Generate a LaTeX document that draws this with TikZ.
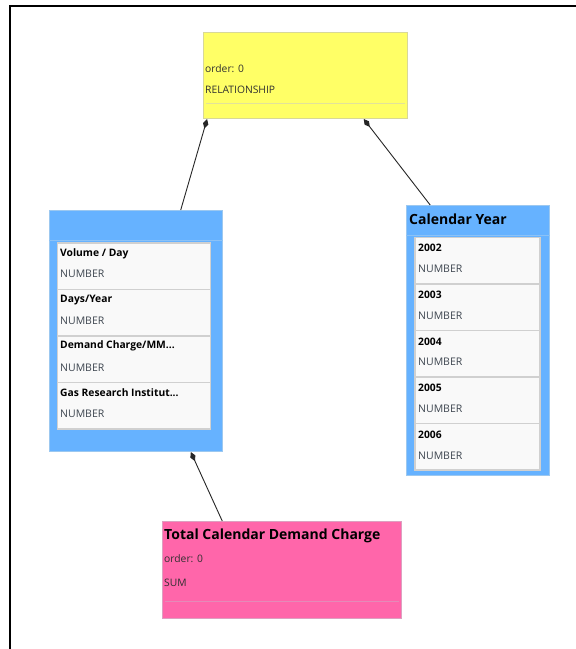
\documentclass[tikz,border=0pt]{standalone}
\usepackage{fontspec}
\setmainfont{Open Sans}[BoldFont={Open Sans Bold}]
\usetikzlibrary{arrows.meta,calc}
\definecolor{relfill}{HTML}{FFFF66}
\definecolor{reldraw}{HTML}{D8D898}
\definecolor{relsep}{HTML}{E2E29A}
\definecolor{bluefill}{HTML}{66B2FF}
\definecolor{bluedraw}{HTML}{9CC8F0}
\definecolor{bluesep}{HTML}{8CC2F6}
\definecolor{pinkfill}{HTML}{FF66AA}
\definecolor{pinkdraw}{HTML}{DDA0C0}
\definecolor{pinksep}{HTML}{E58AB8}
\definecolor{itemfill}{HTML}{F9F9F9}
\definecolor{itemdraw}{HTML}{D0D0D0}
\definecolor{typetext}{HTML}{3E4650}
\definecolor{smalltext}{HTML}{303030}
\tikzset{
  box/.style={draw, line width=1pt, anchor=north west, inner sep=0pt, rectangle},
  itembox/.style={box, fill=itemfill, draw=itemdraw, line width=1.6pt},
  itemtitle/.style={anchor=west, inner sep=0pt, font=\fontsize{10.3}{11}\selectfont\bfseries, text=black},
  itemtype/.style={anchor=west, inner sep=0pt, font=\fontsize{10.5}{11}\selectfont, text=typetext},
  small/.style={anchor=west, inner sep=0pt, font=\fontsize{10.3}{11}\selectfont, text=smalltext},
  bigtitle/.style={anchor=west, inner sep=0pt, font=\fontsize{14}{15}\selectfont\bfseries, text=black},
  link/.style={draw=black!85, line width=0.9pt, {Diamond[length=10pt,width=5.5pt]}-},
  frame/.style={draw=black, line width=2pt},
}
\begin{document}
\begin{tikzpicture}[x=1pt,y=-1pt]
\useasboundingbox (0,0) rectangle (576,649);
\fill[white] (0,0) rectangle (576,649);
% frame
\coordinate (ftl) at (10,6);
\coordinate (ftr) at (576,6);
\coordinate (fbl) at (10,649);
\draw[frame] (ftr) -- (ftl) -- (fbl);

% relationship box
\node[box, fill=relfill, draw=reldraw, minimum width=204pt, minimum height=86pt] (rel) at (203,32) {};
\node[small] (relorder) at (205,69) {order: 0};
\node[small] (reltype) at (205,90) {RELATIONSHIP};
\draw[relsep, line width=1pt] ($(rel.north west)+(3,71)$) -- ($(rel.north east)+(-3,71)$);

% left blue box
\node[box, fill=bluefill, draw=bluedraw, minimum width=173pt, minimum height=241pt] (left) at (49,210) {};
\draw[bluesep, line width=1pt] ($(left.north west)+(0,30)$) -- ($(left.north east)+(0,30)$);
\node[itembox, minimum width=153pt, minimum height=46.5pt] (l1) at (56.5,242) {};
\node[itembox, minimum width=153pt, minimum height=46.5pt] (l2) at (56.5,288.5) {};
\node[itembox, minimum width=153pt, minimum height=46.5pt] (l3) at (56.5,335) {};
\node[itembox, minimum width=153pt, minimum height=46.5pt] (l4) at (56.5,381.5) {};
\node[itemtitle] (l1t) at (60,254) {Volume / Day};
\node[itemtype] (l1n) at (60,274) {NUMBER};
\node[itemtitle] (l2t) at (60,300) {Days/Year};
\node[itemtype] (l2n) at (60,321) {NUMBER};
\node[itemtitle] (l3t) at (60,346) {Demand Charge/MM...};
\node[itemtype] (l3n) at (60,368) {NUMBER};
\node[itemtitle] (l4t) at (60,393) {Gas Research Institut...};
\node[itemtype] (l4n) at (60,414) {NUMBER};

% calendar year box
\node[box, fill=bluefill, draw=bluedraw, minimum width=143pt, minimum height=270pt] (cal) at (406,205) {};
\node[bigtitle] (calt) at (409,219) {Calendar Year};
\draw[bluesep, line width=1pt] ($(cal.north west)+(0,30)$) -- ($(cal.north east)+(0,30)$);
\node[itembox, minimum width=125pt, minimum height=46.5pt] (c1) at (414,236.5) {};
\node[itembox, minimum width=125pt, minimum height=46.5pt] (c2) at (414,283) {};
\node[itembox, minimum width=125pt, minimum height=46.5pt] (c3) at (414,329.5) {};
\node[itembox, minimum width=125pt, minimum height=46.5pt] (c4) at (414,376) {};
\node[itembox, minimum width=125pt, minimum height=46.5pt] (c5) at (414,422.5) {};
\node[itemtitle] (c1t) at (418,248) {2002};
\node[itemtype] (c1n) at (418,269) {NUMBER};
\node[itemtitle] (c2t) at (418,295) {2003};
\node[itemtype] (c2n) at (418,316) {NUMBER};
\node[itemtitle] (c3t) at (418,342) {2004};
\node[itemtype] (c3n) at (418,362) {NUMBER};
\node[itemtitle] (c4t) at (418,388) {2005};
\node[itemtype] (c4n) at (418,409) {NUMBER};
\node[itemtitle] (c5t) at (418,435) {2006};
\node[itemtype] (c5n) at (418,456) {NUMBER};

% pink box
\node[box, fill=pinkfill, draw=pinkdraw, minimum width=239pt, minimum height=97pt] (tot) at (162,521) {};
\node[bigtitle] (tott) at (164,536) {Total Calendar Demand Charge};
\node[small] (totorder) at (164,559) {order: 0};
\node[small] (tottype) at (164,583) {SUM};
\draw[pinksep, line width=1pt] ($(tot.north west)+(3,80)$) -- ($(tot.north east)+(-3,80)$);

% connectors
\draw[link] ($(rel.south west)!0.02!(rel.south east)$) -- ($(left.north west)!0.757!(left.north east)$);
\draw[link] ($(rel.south west)!0.784!(rel.south east)$) -- ($(cal.north west)!0.168!(cal.north east)$);
\draw[link] ($(left.south west)!0.815!(left.south east)$) -- ($(tot.north west)!0.251!(tot.north east)$);
\end{tikzpicture}
\end{document}
